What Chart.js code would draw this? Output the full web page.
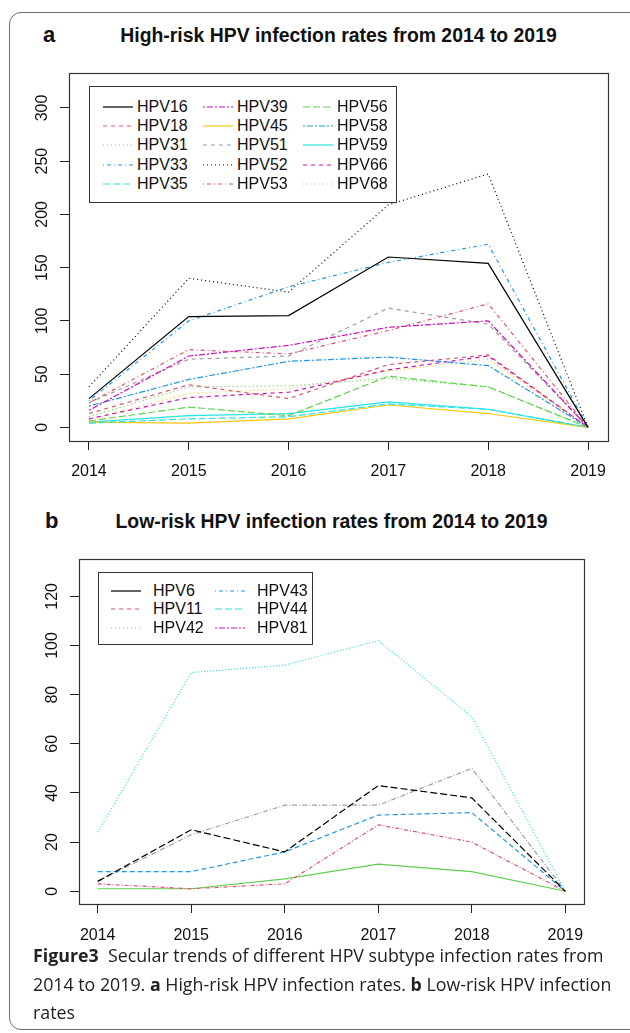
<!DOCTYPE html>
<html>
<head>
<meta charset="utf-8">
<script src="https://cdn.jsdelivr.net/npm/chart.js@4.4.0/dist/chart.umd.min.js"></script>
<style>
  body { margin: 0; width: 630px; height: 1033px; overflow: hidden; background: #fff; position: relative; font-family: "Liberation Sans", Arial, sans-serif; color: #111; }
  .frame { position: absolute; left: 9px; top: 12px; width: 650px; height: 1016px; border: 1.5px solid #6e6e6e; border-radius: 12px; }
  canvas { position: absolute; left: 0; }
  .panel { position: absolute; font-weight: bold; font-size: 22px; line-height: 22px; }
  .title { position: absolute; font-weight: bold; font-size: 19.4px; line-height: 22px; text-align: center; }
  .legend { position: absolute; border: 1px solid #333; background: #fff; display: grid; grid-auto-flow: column; box-sizing: border-box; font-size: 16px; z-index: 2; }
  .legend .item { display: flex; align-items: center; white-space: nowrap; }
  .legend svg { flex: none; }
  .caption { position: absolute; left: 33px; top: 941px; font-family: "Open Sans", sans-serif; font-size: 17.8px; line-height: 28.5px; color: #222; white-space: nowrap; }
</style>
</head>
<body>
<div class="frame"></div>

<div class="panel" style="left:43px;top:24px">a</div>
<div class="title" style="left:69px;width:539px;top:24px">High-risk HPV infection rates from 2014 to 2019</div>
<canvas id="high" width="630" height="500" style="top:0;width:630px;height:500px"></canvas>
<div class="legend" id="legHigh" style="left:89px;top:86px;width:308px;height:117px;padding:10px 0 0 13px;grid-template-rows:repeat(5,19.3px);grid-template-columns:repeat(3,100px)"></div>

<div class="panel" style="left:45px;top:510px">b</div>
<div class="title" style="left:79px;width:505px;top:510px">Low-risk HPV infection rates from 2014 to 2019</div>
<canvas id="low" width="630" height="450" style="top:500px;width:630px;height:450px"></canvas>
<div class="legend" id="legLow" style="left:98px;top:572px;width:215px;height:73px;padding:8.5px 0 0 12px;grid-template-rows:repeat(3,18.6px);grid-template-columns:repeat(2,104px)"></div>

<div class="caption"><b>Figure3</b>&nbsp; Secular trends of different HPV subtype infection rates from<br>2014 to 2019. <b>a</b> High-risk HPV infection rates. <b>b</b> Low-risk HPV infection<br>rates</div>

<script>
// years on the x axis, tick values on the y axes
const years = [2014, 2015, 2016, 2017, 2018, 2019];
const highTicks = [0, 50, 100, 150, 200, 250, 300];
const lowTicks = [0, 20, 40, 60, 80, 100, 120];

// high-risk types (panel a)
const highTypes = ['HPV16', 'HPV18', 'HPV31', 'HPV33', 'HPV35', 'HPV39', 'HPV45', 'HPV51',
                   'HPV52', 'HPV53', 'HPV56', 'HPV58', 'HPV59', 'HPV66', 'HPV68'];
const hpv16 = [27, 104, 105, 160, 154, 0];
const hpv18 = [13, 40, 27, 59, 68, 0];
const hpv31 = [10, 38, 39, 46, 38, 0];
const hpv33 = [25, 100, 132, 155, 172, 0];
const hpv35 = [4, 8, 10, 22, 17, 0];
const hpv39 = [16, 67, 77, 94, 100, 0];
const hpv45 = [5, 4, 8, 21, 13, 0];
const hpv51 = [23, 64, 67, 112, 97, 0];
const hpv52 = [38, 140, 127, 209, 238, 0];
const hpv53 = [23, 73, 69, 91, 116, 0];
const hpv56 = [6, 19, 11, 48, 38, 0];
const hpv58 = [20, 45, 62, 66, 58, 0];
const hpv59 = [5, 11, 13, 24, 17, 0];
const hpv66 = [8, 28, 33, 54, 67, 0];
const hpv68 = [7, 32, 36, 53, 64, 0];

// low-risk types (panel b)
const lowTypes = ['HPV6', 'HPV11', 'HPV42', 'HPV43', 'HPV44', 'HPV81'];
const hpv6 = [4, 25, 16, 43, 38, 0];
const hpv11 = [3, 1, 3, 27, 20, 0];
const hpv42 = [1, 1, 5, 11, 8, 0];
const hpv43 = [8, 8, 16, 31, 32, 0];
const hpv44 = [24, 89, 92, 102, 71, 0];
const hpv81 = [4, 23, 35, 35, 50, 0];

// R default palette + line types
const rPal = ['#000000', '#DF536B', '#61D04F', '#2297E6', '#28E2E5', '#CD0BBC', '#F5C710', '#9E9E9E'];
const rLty = [[], [4, 4], [1, 3], [1, 3, 4, 3], [7, 3], [2, 2, 6, 2]];

// how the low-risk lines actually came out in the figure
const lowLineCol = ['#000000', '#DF536B', '#61D04F', '#2297E6', '#28E2E5', '#9E9E9E'];
const lowLineDash = [[7, 3], [4, 2, 1, 2], [], [5, 3], [1, 2], [5, 2, 1, 2]];

const highSeries = [hpv16, hpv18, hpv31, hpv33, hpv35, hpv39, hpv45, hpv51, hpv52, hpv53, hpv56, hpv58, hpv59, hpv66, hpv68];
const lowSeries = [hpv6, hpv11, hpv42, hpv43, hpv44, hpv81];

const FONT = { family: '"Liberation Sans", Arial, sans-serif', size: 16 };

function toXY(vals) {
  return vals.map((v, j) => ({ x: years[j], y: v }));
}

// full box round the plot region, like R's box()
const boxPlugin = {
  id: 'box',
  afterDraw(chart) {
    const a = chart.chartArea, ctx = chart.ctx;
    ctx.save();
    ctx.strokeStyle = '#333';
    ctx.lineWidth = 1.2;
    ctx.strokeRect(Math.round(a.left) + 0.5, Math.round(a.top) + 0.5, Math.round(a.right - a.left), Math.round(a.bottom - a.top));
    ctx.restore();
  }
};

function makeChart(el, datasets, yTicks, yMin, yMax, yWidth, xHeight, xPad, pad) {
  return new Chart(el, {
    type: 'line',
    data: { datasets: datasets },
    options: {
      responsive: false,
      animation: false,
      layout: { padding: pad },
      plugins: { legend: { display: false }, tooltip: { enabled: false } },
      scales: {
        x: {
          type: 'linear',
          min: 2013.8,
          max: 2019.2,
          afterBuildTicks: s => { s.ticks = years.map(v => ({ value: v })); },
          afterFit: s => { s.height = xHeight; },
          grid: { drawOnChartArea: false, drawTicks: true, tickLength: 9, color: '#222', lineWidth: 1 },
          border: { display: true, color: '#333' },
          ticks: { font: FONT, color: '#111', padding: xPad, maxRotation: 0, autoSkip: false, callback: v => String(v) }
        },
        y: {
          min: yMin,
          max: yMax,
          afterBuildTicks: s => { s.ticks = yTicks.map(v => ({ value: v })); },
          afterFit: s => { s.width = yWidth; },
          grid: { drawOnChartArea: false, drawTicks: true, tickLength: 9, color: '#222', lineWidth: 1 },
          border: { display: true, color: '#333' },
          ticks: { font: FONT, color: '#111', padding: 4, minRotation: 90, maxRotation: 90, crossAlign: 'center', autoSkip: false, callback: v => String(v) }
        }
      }
    },
    plugins: [boxPlugin]
  });
}

const highSets = highSeries.map((vals, i) => ({
  label: highTypes[i],
  data: toXY(vals),
  borderColor: rPal[i % 8],
  borderDash: rLty[i % 6],
  borderWidth: 1.2,
  pointRadius: 0,
  tension: 0,
  fill: false
}));

const lowSets = lowSeries.map((vals, i) => ({
  label: lowTypes[i],
  data: toXY(vals),
  borderColor: lowLineCol[i],
  borderDash: lowLineDash[i],
  borderWidth: 1.2,
  pointRadius: 0,
  tension: 0,
  fill: false
}));

makeChart(document.getElementById('high'), highSets, highTicks, -12.8, 332.8, 69, 59, 12, { left: 0, right: 22, top: 73, bottom: 0 });
makeChart(document.getElementById('low'), lowSets, lowTicks, -5.2, 135.2, 79, 46, 13, { left: 0, right: 46, top: 59, bottom: 0 });

// legends drawn as in the figure (R legend, filled by column)
function buildLegend(id, names, cols, dashes, gap) {
  const box = document.getElementById(id);
  names.forEach((n, i) => {
    const item = document.createElement('div');
    item.className = 'item';
    const d = dashes[i].length ? dashes[i].join(' ') : 'none';
    item.innerHTML = '<svg width="30" height="6" style="margin-right:' + gap + 'px"><line x1="0" y1="3" x2="30" y2="3" stroke="' +
      cols[i] + '" stroke-width="1.2" stroke-dasharray="' + d + '"/></svg><span>' + n + '</span>';
    box.appendChild(item);
  });
}

buildLegend('legHigh', highTypes, highTypes.map((_, i) => rPal[i % 8]), highTypes.map((_, i) => rLty[i % 6]), 4);
buildLegend('legLow', lowTypes, lowTypes.map((_, i) => rPal[i % 8]), lowTypes.map((_, i) => rLty[i % 6]), 12);
</script>
</body>
</html>
